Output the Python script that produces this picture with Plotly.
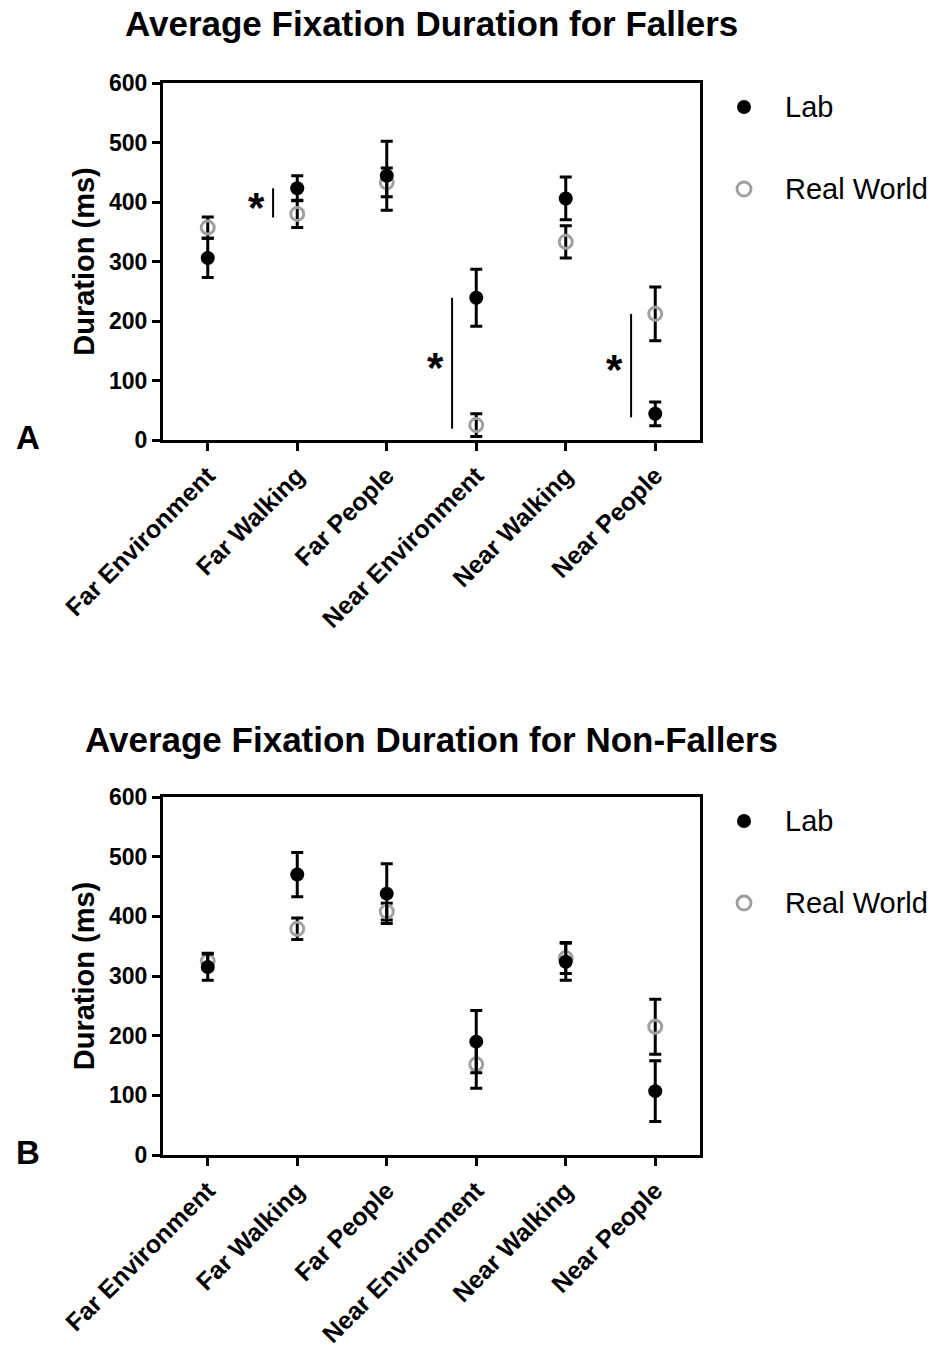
import plotly.graph_objects as go

categories = ["Far Environment", "Far Walking", "Far People",
              "Near Environment", "Near Walking", "Near People"]
y_ticks = [0, 100, 200, 300, 400, 500, 600]

fallers_lab = [306, 423, 444, 239, 406, 44]
fallers_lab_err = [33, 21, 58, 48, 36, 20]
fallers_rw = [357, 380, 433, 25, 333, 212]
fallers_rw_err = [18, 23, 24, 19, 27, 45]
fallers_significant = [False, True, False, True, False, True]

nonfallers_lab = [315, 470, 438, 190, 324, 107]
nonfallers_lab_err = [22, 37, 50, 52, 31, 51]
nonfallers_rw = [325, 379, 408, 152, 330, 215]
nonfallers_rw_err = [13, 18, 14, 40, 26, 46]
nonfallers_significant = [False] * 6

FONT = "Liberation Sans, Arial, sans-serif"
W, H = 939, 1353
GRAY = "#a0a0a0"

fig = go.Figure()

panels = [
    dict(lab=fallers_lab, lab_err=fallers_lab_err, rw=fallers_rw, rw_err=fallers_rw_err,
         sig=fallers_significant, xa="x", ya="y",
         title="Average Fixation Duration for Fallers", letter="A",
         top=83, bottom=440, title_y=24, letter_y=437),
    dict(lab=nonfallers_lab, lab_err=nonfallers_lab_err, rw=nonfallers_rw, rw_err=nonfallers_rw_err,
         sig=nonfallers_significant, xa="x2", ya="y2",
         title="Average Fixation Duration for Non-Fallers", letter="B",
         top=797, bottom=1155, title_y=740, letter_y=1152),
]

left_px, right_px = 163, 700
shapes = []
annotations = []

for i, p in enumerate(panels):
    err_style = dict(type="data", color="black", thickness=3, width=6)
    fig.add_trace(go.Scatter(
        x=categories, y=p["rw"], mode="markers", name="Real World",
        xaxis=p["xa"], yaxis=p["ya"], showlegend=False,
        error_y=dict(array=p["rw_err"], **err_style),
        marker=dict(symbol="circle-open", size=13, color=GRAY, line=dict(width=3, color=GRAY)),
    ))
    fig.add_trace(go.Scatter(
        x=categories, y=p["lab"], mode="markers", name="Lab",
        xaxis=p["xa"], yaxis=p["ya"], showlegend=False,
        error_y=dict(array=p["lab_err"], **err_style),
        marker=dict(symbol="circle", size=14, color="black"),
    ))

    # significance markers derived from data
    for k, s in enumerate(p["sig"]):
        if not s:
            continue
        lo = min(p["lab"][k], p["rw"][k])
        hi = max(p["lab"][k], p["rw"][k])
        shapes.append(dict(type="line", xref=p["xa"], yref=p["ya"],
                           x0=k - 0.27, x1=k - 0.27, y0=lo - 6, y1=hi,
                           line=dict(color="black", width=2)))
        annotations.append(dict(xref=p["xa"], yref=p["ya"], x=k - 0.45, y=(lo + hi) / 2,
                                text="*", showarrow=False, yshift=-6,
                                font=dict(family=FONT, size=42, color="black", weight="bold")))

    annotations.append(dict(xref="paper", yref="paper", x=431.5 / W, y=1 - p["title_y"] / H,
                            xanchor="center", yanchor="middle", showarrow=False,
                            text=p["title"],
                            font=dict(family=FONT, size=35, color="black", weight="bold")))
    annotations.append(dict(xref="paper", yref="paper", x=28 / W, y=1 - p["letter_y"] / H,
                            xanchor="center", yanchor="middle", showarrow=False,
                            text=p["letter"],
                            font=dict(family=FONT, size=33, color="black", weight="bold")))

    # legend (manual)
    leg_top = p["top"] + 24
    for j, (nm, filled) in enumerate([("Lab", True), ("Real World", False)]):
        yc = 1 - (leg_top + j * 82) / H
        shapes.append(dict(type="circle", xref="paper", yref="paper",
                           xsizemode="pixel", ysizemode="pixel",
                           xanchor=744 / W, yanchor=yc,
                           x0=-7, x1=7, y0=-7, y1=7,
                           fillcolor="black" if filled else "rgba(0,0,0,0)",
                           line=dict(color="black" if filled else GRAY, width=0 if filled else 3)))
        annotations.append(dict(xref="paper", yref="paper", x=783 / W, y=yc,
                                xanchor="left", yanchor="middle", showarrow=False,
                                text=nm, font=dict(family=FONT, size=29, color="black")))

axis_common = dict(showline=True, linecolor="black", linewidth=3, mirror=True,
                   ticks="outside", ticklen=8, tickwidth=3, tickcolor="black",
                   showgrid=False, zeroline=False, automargin=False)

layout = dict(
    width=W, height=H, plot_bgcolor="white", paper_bgcolor="white",
    margin=dict(l=0, r=0, t=0, b=0, autoexpand=False), showlegend=False,
    shapes=shapes, annotations=annotations,
    font=dict(family=FONT, color="black"),
)
for i, p in enumerate(panels):
    sx = "" if i == 0 else "2"
    ydom = [1 - p["bottom"] / H, 1 - p["top"] / H]
    layout["xaxis" + sx] = dict(axis_common, domain=[left_px / W, right_px / W],
                                anchor="y" + sx, type="category",
                                categoryorder="array", categoryarray=categories,
                                range=[-0.5, 5.5], tickangle=-45,
                                tickfont=dict(family=FONT, size=25, color="black", weight="bold"))
    layout["yaxis" + sx] = dict(axis_common, domain=ydom, anchor="x" + sx,
                                range=[0, 600], tickvals=y_ticks,
                                tickfont=dict(family=FONT, size=23, color="black", weight="bold"),
                                title=dict(text="Duration (ms)", standoff=6,
                                           font=dict(family=FONT, size=29, color="black", weight="bold")))

fig.update_layout(**layout)
fig.write_html("out.html", config={"displayModeBar": False},
               post_script="document.body.style.margin='0';")
